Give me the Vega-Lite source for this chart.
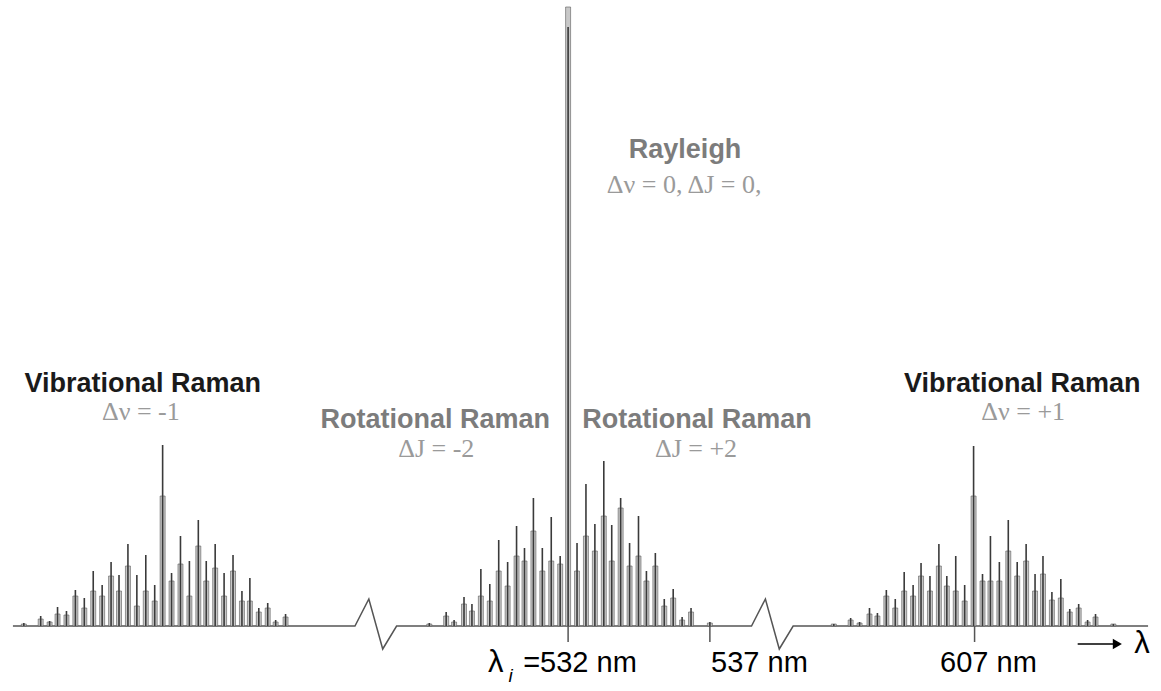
{
  "$schema": "https://vega.github.io/schema/vega-lite/v6.json",
  "width": 1161,
  "height": 691,
  "autosize": {"type": "fit", "contains": "padding"},
  "padding": 0,
  "background": "white",
  "config": {"view": {"stroke": null}},
  "datasets": {
    "peaks": [
      {"band": "vib-", "x": 19, "peak": 3, "shoulder": 2},
      {"band": "vib-", "x": 36, "peak": 10, "shoulder": 7},
      {"band": "vib-", "x": 45, "peak": 5, "shoulder": 4},
      {"band": "vib-", "x": 53, "peak": 19, "shoulder": 12},
      {"band": "vib-", "x": 62, "peak": 15, "shoulder": 11},
      {"band": "vib-", "x": 71, "peak": 36, "shoulder": 30},
      {"band": "vib-", "x": 80, "peak": 28, "shoulder": 18},
      {"band": "vib-", "x": 89, "peak": 55, "shoulder": 35},
      {"band": "vib-", "x": 98, "peak": 41, "shoulder": 30},
      {"band": "vib-", "x": 107, "peak": 64, "shoulder": 50},
      {"band": "vib-", "x": 115, "peak": 51, "shoulder": 35},
      {"band": "vib-", "x": 124, "peak": 82, "shoulder": 60},
      {"band": "vib-", "x": 133, "peak": 51, "shoulder": 20},
      {"band": "vib-", "x": 142, "peak": 71, "shoulder": 35},
      {"band": "vib-", "x": 151, "peak": 41, "shoulder": 25},
      {"band": "vib-", "x": 159, "peak": 181, "shoulder": 130},
      {"band": "vib-", "x": 168, "peak": 53, "shoulder": 45},
      {"band": "vib-", "x": 177, "peak": 90, "shoulder": 62},
      {"band": "vib-", "x": 186, "peak": 65, "shoulder": 30},
      {"band": "vib-", "x": 195, "peak": 106, "shoulder": 80},
      {"band": "vib-", "x": 203, "peak": 65, "shoulder": 45},
      {"band": "vib-", "x": 212, "peak": 82, "shoulder": 58},
      {"band": "vib-", "x": 221, "peak": 53, "shoulder": 30},
      {"band": "vib-", "x": 230, "peak": 71, "shoulder": 55},
      {"band": "vib-", "x": 239, "peak": 35, "shoulder": 25},
      {"band": "vib-", "x": 247, "peak": 48, "shoulder": 25},
      {"band": "vib-", "x": 256, "peak": 18, "shoulder": 14},
      {"band": "vib-", "x": 265, "peak": 23, "shoulder": 18},
      {"band": "vib-", "x": 273, "peak": 6, "shoulder": 4},
      {"band": "vib-", "x": 283, "peak": 12, "shoulder": 9},
      {"band": "rot", "x": 428, "peak": 3, "shoulder": 2},
      {"band": "rot", "x": 445, "peak": 14, "shoulder": 10},
      {"band": "rot", "x": 453, "peak": 6, "shoulder": 4},
      {"band": "rot", "x": 463, "peak": 29, "shoulder": 22},
      {"band": "rot", "x": 471, "peak": 22, "shoulder": 15},
      {"band": "rot", "x": 480, "peak": 57, "shoulder": 30},
      {"band": "rot", "x": 489, "peak": 42, "shoulder": 25},
      {"band": "rot", "x": 498, "peak": 86, "shoulder": 55},
      {"band": "rot", "x": 507, "peak": 64, "shoulder": 40},
      {"band": "rot", "x": 516, "peak": 100, "shoulder": 70},
      {"band": "rot", "x": 524, "peak": 78, "shoulder": 65},
      {"band": "rot", "x": 533, "peak": 128, "shoulder": 95},
      {"band": "rot", "x": 542, "peak": 78, "shoulder": 55},
      {"band": "rot", "x": 551, "peak": 109, "shoulder": 65},
      {"band": "rot", "x": 560, "peak": 70, "shoulder": 62},
      {"band": "rayleigh", "x": 568, "peak": 599, "shoulder": 619},
      {"band": "rot", "x": 577, "peak": 83, "shoulder": 55},
      {"band": "rot", "x": 586, "peak": 142, "shoulder": 90},
      {"band": "rot", "x": 595, "peak": 102, "shoulder": 75},
      {"band": "rot", "x": 604, "peak": 165, "shoulder": 110},
      {"band": "rot", "x": 612, "peak": 101, "shoulder": 65},
      {"band": "rot", "x": 621, "peak": 128, "shoulder": 118},
      {"band": "rot", "x": 630, "peak": 83, "shoulder": 60},
      {"band": "rot", "x": 639, "peak": 110, "shoulder": 70},
      {"band": "rot", "x": 647, "peak": 55, "shoulder": 45},
      {"band": "rot", "x": 656, "peak": 73, "shoulder": 60},
      {"band": "rot", "x": 665, "peak": 27, "shoulder": 20},
      {"band": "rot", "x": 674, "peak": 37, "shoulder": 28},
      {"band": "rot", "x": 683, "peak": 9, "shoulder": 6},
      {"band": "rot", "x": 692, "peak": 18, "shoulder": 14},
      {"band": "rot", "x": 711, "peak": 4, "shoulder": 3},
      {"band": "vib+", "x": 836, "peak": 2, "shoulder": 2},
      {"band": "vib+", "x": 853, "peak": 8, "shoulder": 6},
      {"band": "vib+", "x": 862, "peak": 4, "shoulder": 3},
      {"band": "vib+", "x": 872, "peak": 18, "shoulder": 12},
      {"band": "vib+", "x": 880, "peak": 13, "shoulder": 10},
      {"band": "vib+", "x": 889, "peak": 36, "shoulder": 30},
      {"band": "vib+", "x": 898, "peak": 27, "shoulder": 18},
      {"band": "vib+", "x": 907, "peak": 54, "shoulder": 35},
      {"band": "vib+", "x": 916, "peak": 41, "shoulder": 30},
      {"band": "vib+", "x": 924, "peak": 63, "shoulder": 50},
      {"band": "vib+", "x": 933, "peak": 50, "shoulder": 35},
      {"band": "vib+", "x": 942, "peak": 82, "shoulder": 60},
      {"band": "vib+", "x": 950, "peak": 50, "shoulder": 40},
      {"band": "vib+", "x": 959, "peak": 70, "shoulder": 35},
      {"band": "vib+", "x": 968, "peak": 41, "shoulder": 25},
      {"band": "vib+", "x": 977, "peak": 180, "shoulder": 130},
      {"band": "vib+", "x": 986, "peak": 52, "shoulder": 45},
      {"band": "vib+", "x": 994, "peak": 90, "shoulder": 45},
      {"band": "vib+", "x": 1003, "peak": 64, "shoulder": 45},
      {"band": "vib+", "x": 1012, "peak": 106, "shoulder": 75},
      {"band": "vib+", "x": 1021, "peak": 64, "shoulder": 50},
      {"band": "vib+", "x": 1030, "peak": 82, "shoulder": 65},
      {"band": "vib+", "x": 1039, "peak": 52, "shoulder": 35},
      {"band": "vib+", "x": 1047, "peak": 70, "shoulder": 52},
      {"band": "vib+", "x": 1056, "peak": 34, "shoulder": 26},
      {"band": "vib+", "x": 1065, "peak": 47, "shoulder": 28},
      {"band": "vib+", "x": 1074, "peak": 17, "shoulder": 14},
      {"band": "vib+", "x": 1083, "peak": 22, "shoulder": 18},
      {"band": "vib+", "x": 1092, "peak": 6, "shoulder": 4},
      {"band": "vib+", "x": 1100, "peak": 12, "shoulder": 9},
      {"band": "vib+", "x": 1118, "peak": 2, "shoulder": 2}
    ],
    "baseline": [
      {"i": 1, "x": 8, "y": 0},
      {"i": 2, "x": 353, "y": 0},
      {"i": 3, "x": 367, "y": 27},
      {"i": 4, "x": 381, "y": -23},
      {"i": 5, "x": 395, "y": 0},
      {"i": 6, "x": 753, "y": 0},
      {"i": 7, "x": 767, "y": 27},
      {"i": 8, "x": 781, "y": -23},
      {"i": 9, "x": 795, "y": 0},
      {"i": 10, "x": 1153, "y": 0}
    ],
    "ticks": [
      {"x": 568, "nm": 532, "top": 0, "bottom": -16},
      {"x": 711, "nm": 537, "top": 0, "bottom": -16},
      {"x": 978, "nm": 607, "top": 0, "bottom": -16}
    ],
    "arrow": [{"x": 1082, "x2": 1120, "y": -18}],
    "arrowhead": [{"x": 1122, "y": -18}],
    "titlesDark": [
      {"x": 139, "y": 234, "text": "Vibrational Raman"},
      {"x": 1026, "y": 234, "text": "Vibrational Raman"}
    ],
    "titlesGray": [
      {"x": 686, "y": 468, "text": "Rayleigh"},
      {"x": 434, "y": 198, "text": "Rotational Raman"},
      {"x": 698, "y": 198, "text": "Rotational Raman"}
    ],
    "serif": [
      {"x": 685, "y": 433, "text": "Δν = 0, ΔJ = 0,"},
      {"x": 137, "y": 206, "text": "Δν = -1"},
      {"x": 1027, "y": 206, "text": "Δν = +1"},
      {"x": 435, "y": 169, "text": "ΔJ = -2"},
      {"x": 697, "y": 169, "text": "ΔJ = +2"}
    ],
    "wavelengths": [
      {"x": 580, "y": -46, "text": "=532 nm"},
      {"x": 761, "y": -46, "text": "537 nm"},
      {"x": 992, "y": -46, "text": "607 nm"}
    ],
    "lambdaI": [{"x": 495, "y": -46, "text": "λ"}],
    "subscript": [{"x": 510, "y": -56, "text": "i"}],
    "lambda": [{"x": 1147, "y": -27, "text": "λ"}]
  },
  "encoding": {
    "x": {"field": "x", "type": "quantitative", "scale": {"domain": [0, 1161], "nice": false, "zero": false}, "axis": null},
    "y": {"field": "y", "type": "quantitative", "scale": {"domain": [-65, 626], "nice": false, "zero": false}, "axis": null}
  },
  "layer": [
    {
      "data": {"name": "baseline"},
      "mark": {"type": "line", "color": "#555555", "strokeWidth": 1.5},
      "encoding": {"order": {"field": "i", "type": "quantitative"}}
    },
    {
      "data": {"name": "peaks"},
      "mark": {"type": "bar", "width": 5, "fill": "#c8c8c8", "stroke": "#5a5a5a", "strokeWidth": 0.6},
      "encoding": {
        "y": {"field": "shoulder", "type": "quantitative"},
        "y2": {"datum": 0}
      }
    },
    {
      "data": {"name": "peaks"},
      "mark": {"type": "rule", "color": "#3a3a3a", "strokeWidth": 1.6},
      "encoding": {
        "y": {"field": "peak", "type": "quantitative"},
        "y2": {"datum": 0}
      }
    },
    {
      "data": {"name": "ticks"},
      "mark": {"type": "rule", "color": "#555555", "strokeWidth": 1.5},
      "encoding": {
        "y": {"field": "top", "type": "quantitative"},
        "y2": {"field": "bottom"}
      }
    },
    {
      "data": {"name": "arrow"},
      "mark": {"type": "rule", "color": "#000000", "strokeWidth": 1.5},
      "encoding": {"x2": {"field": "x2"}}
    },
    {
      "data": {"name": "arrowhead"},
      "mark": {"type": "point", "shape": "triangle-right", "filled": true, "color": "#000000", "size": 110, "opacity": 1}
    },
    {
      "data": {"name": "titlesDark"},
      "mark": {"type": "text", "font": "Liberation Sans", "fontWeight": "bold", "fontSize": 27, "color": "#1a1a1a", "align": "center", "baseline": "alphabetic"},
      "encoding": {"text": {"field": "text"}}
    },
    {
      "data": {"name": "titlesGray"},
      "mark": {"type": "text", "font": "Liberation Sans", "fontWeight": "bold", "fontSize": 27, "color": "#7c7c7c", "align": "center", "baseline": "alphabetic"},
      "encoding": {"text": {"field": "text"}}
    },
    {
      "data": {"name": "serif"},
      "mark": {"type": "text", "font": "Liberation Serif", "fontSize": 26, "color": "#9a9a9a", "align": "center", "baseline": "alphabetic"},
      "encoding": {"text": {"field": "text"}}
    },
    {
      "data": {"name": "wavelengths"},
      "mark": {"type": "text", "font": "Liberation Sans", "fontSize": 29, "color": "#000000", "align": "center", "baseline": "alphabetic"},
      "encoding": {"text": {"field": "text"}}
    },
    {
      "data": {"name": "lambdaI"},
      "mark": {"type": "text", "font": "Liberation Sans", "fontSize": 31, "color": "#000000", "align": "center", "baseline": "alphabetic"},
      "encoding": {"text": {"field": "text"}}
    },
    {
      "data": {"name": "subscript"},
      "mark": {"type": "text", "font": "Liberation Sans", "fontStyle": "italic", "fontSize": 19, "color": "#000000", "align": "center", "baseline": "alphabetic"},
      "encoding": {"text": {"field": "text"}}
    },
    {
      "data": {"name": "lambda"},
      "mark": {"type": "text", "font": "Liberation Sans", "fontSize": 31, "color": "#000000", "align": "center", "baseline": "alphabetic"},
      "encoding": {"text": {"field": "text"}}
    }
  ]
}
